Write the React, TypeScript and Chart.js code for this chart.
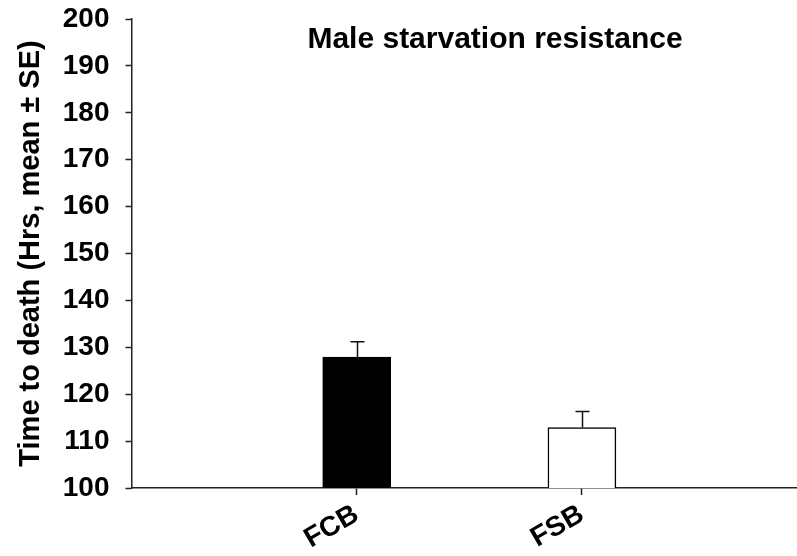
import React, { useEffect, useRef } from "react";
import { Chart, registerables } from "chart.js";

Chart.register(...registerables);

const categories = ["FCB", "FSB"];
const meanValues = [127.9, 112.9];
const seValues = [3.3, 3.4];
const yTicks = [100, 110, 120, 130, 140, 150, 160, 170, 180, 190, 200];
const chartTitle = "Male starvation resistance";
const yTitle = "Time to death (Hrs, mean \u00b1 SE)";

const FONT = '"Liberation Sans", Arial, sans-serif';

const errorBarPlugin = {
  id: "errorBars",
  afterDatasetsDraw(chart: any) {
    const { ctx } = chart;
    const meta = chart.getDatasetMeta(0);
    const yScale = chart.scales.y;
    ctx.save();
    ctx.strokeStyle = "#111";
    ctx.lineWidth = 1.5;
    meta.data.forEach((bar: any, i: number) => {
      const top = yScale.getPixelForValue(meanValues[i] + seValues[i]);
      const base = yScale.getPixelForValue(meanValues[i]);
      const x = Math.round(bar.x) + 0.5;
      ctx.beginPath();
      ctx.moveTo(x, base);
      ctx.lineTo(x, top);
      ctx.moveTo(x - 7, top);
      ctx.lineTo(x + 7, top);
      ctx.stroke();
    });
    ctx.restore();
  },
};

const titlePlugin = {
  id: "insideTitle",
  afterDraw(chart: any) {
    const { ctx } = chart;
    ctx.save();
    ctx.font = `bold 30px ${FONT}`;
    ctx.fillStyle = "#000";
    ctx.textAlign = "center";
    ctx.textBaseline = "alphabetic";
    ctx.fillText(chartTitle, 495, 48);
    ctx.restore();
  },
};

export default function App() {
  const ref = useRef<HTMLCanvasElement>(null);
  useEffect(() => {
    if (!ref.current) return;
    const chart = new Chart(ref.current, {
      type: "bar",
      data: {
        datasets: [
          {
            data: meanValues.map((v, i) => ({ x: i + 1, y: v })),
            backgroundColor: ["#000000", "#ffffff"],
            borderColor: "#000000",
            borderWidth: 1.5,
            barThickness: 68,
          },
        ],
      },
      options: {
        animation: false,
        responsive: false,
        maintainAspectRatio: false,
        layout: { padding: { top: 19, right: 0, left: 0, bottom: 0 } },
        plugins: {
          legend: { display: false },
          tooltip: { enabled: false },
          title: { display: false },
        },
        scales: {
          x: {
            type: "linear",
            offset: false,
            min: 0,
            max: 2.955,
            afterBuildTicks: (axis: any) => {
              axis.ticks = categories.map((_, i) => ({ value: i + 1 }));
            },
            afterFit: (scale: any) => {
              scale.height = 68;
              scale.paddingLeft = 0;
              scale.paddingRight = 0;
            },
            ticks: {
              autoSkip: false,
              maxRotation: 30,
              minRotation: 30,
              padding: 3,
              color: "#000",
              font: { family: FONT, size: 28, weight: "bold" },
              callback: (v: any) => categories[Number(v) - 1] ?? "",
            },
            grid: {
              offset: false,
              drawOnChartArea: false,
              drawTicks: true,
              tickLength: 7,
              tickColor: "#222",
              tickWidth: 1.5,
            },
            border: { display: true, color: "#222", width: 1.5 },
          },
          y: {
            min: 100,
            max: 200,
            afterBuildTicks: (axis: any) => {
              axis.ticks = yTicks.map((v) => ({ value: v }));
            },
            afterFit: (scale: any) => {
              scale.width = 131.5;
              scale.paddingTop = 0;
              scale.paddingBottom = 0;
            },
            ticks: {
              padding: 16,
              color: "#000",
              font: { family: FONT, size: 28, weight: "bold" },
            },
            grid: {
              drawOnChartArea: false,
              drawTicks: true,
              tickLength: 6,
              tickColor: "#222",
              tickWidth: 1.5,
            },
            border: { display: true, color: "#222", width: 1.5 },
            title: {
              display: true,
              text: yTitle,
              color: "#000",
              font: { family: FONT, size: 29, weight: "bold", lineHeight: 1.2 },
              padding: { top: 14, bottom: 0 },
            },
          },
        },
      },
      plugins: [errorBarPlugin, titlePlugin],
    });
    return () => chart.destroy();
  }, []);

  return (
    <div style={{ position: "absolute", left: 0, top: 0, width: 797, height: 556, background: "#fff" }}>
      <canvas ref={ref} width={797} height={556} style={{ display: "block" }} />
    </div>
  );
}
